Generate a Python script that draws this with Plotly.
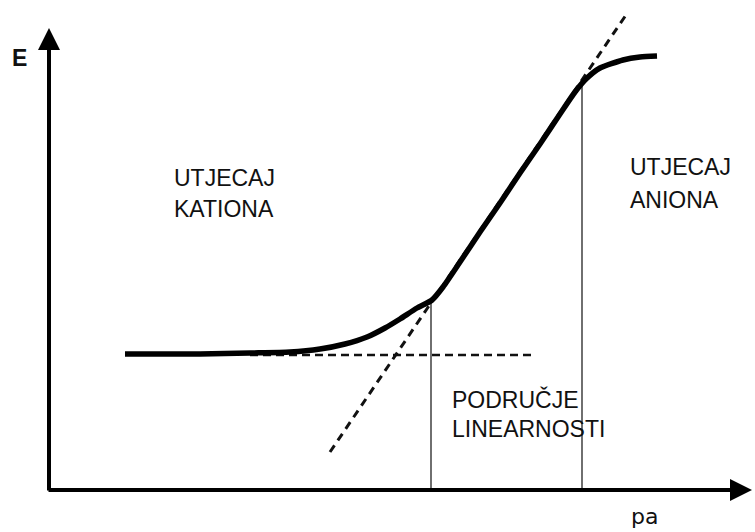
import plotly.graph_objects as go

# Coordinates in a schematic units system (0..755 wide, 0..532 tall, y downward)
curve_x = [125, 200, 250, 290, 320, 345, 367, 385, 400, 417, 432, 443, 460, 480, 500, 520, 540, 560, 575, 586, 600, 623, 640, 657]
curve_y = [354, 354, 353, 352, 349, 344, 337, 328, 319, 308, 300, 287, 262, 232, 203, 173, 144, 114, 92, 79, 68, 60, 57, 56]

tangent_x = [330, 628]
tangent_y = [452, 12]

baseline_x = [250, 535]
baseline_y = [355, 355]

lin_start_x, lin_start_top = 431, 300
lin_end_x, lin_end_top = 582, 83
axis_origin = (49, 490)
axis_x_end = 752
axis_y_end = 28

labels = [
    ("UTJECAJ", 172, 178),
    ("KATIONA", 172, 209),
    ("UTJECAJ", 628, 167),
    ("ANIONA", 628, 200),
    ("PODRUČJE", 450, 399),
    ("LINEARNOSTI", 450, 429),
]
axis_label_y = "E"
axis_label_x = "pa"

fig = go.Figure()

# vertical guide lines
fig.add_trace(go.Scatter(x=[lin_start_x, lin_start_x], y=[lin_start_top, axis_origin[1]],
                         mode="lines", line=dict(color="#222", width=1.3), hoverinfo="skip"))
fig.add_trace(go.Scatter(x=[lin_end_x, lin_end_x], y=[lin_end_top, axis_origin[1]],
                         mode="lines", line=dict(color="#222", width=1.3), hoverinfo="skip"))
# dashed lines
fig.add_trace(go.Scatter(x=baseline_x, y=baseline_y, mode="lines",
                         line=dict(color="#111", width=2.5, dash="8px,5px"), hoverinfo="skip"))
fig.add_trace(go.Scatter(x=tangent_x, y=tangent_y, mode="lines",
                         line=dict(color="#111", width=3, dash="8px,6px"), hoverinfo="skip"))
# main curve
fig.add_trace(go.Scatter(x=curve_x, y=curve_y, mode="lines",
                         line=dict(color="#000", width=5.5, shape="spline", smoothing=0.6), hoverinfo="skip"))

annotations = []
# axes with arrows
annotations.append(dict(x=axis_origin[0], y=axis_y_end, ax=axis_origin[0], ay=axis_origin[1] + 2,
                        xref="x", yref="y", axref="x", ayref="y", showarrow=True,
                        arrowhead=2, arrowsize=1.1, arrowwidth=4, arrowcolor="#000", text=""))
annotations.append(dict(x=axis_x_end, y=axis_origin[1], ax=axis_origin[0] - 2, ay=axis_origin[1],
                        xref="x", yref="y", axref="x", ayref="y", showarrow=True,
                        arrowhead=2, arrowsize=1.1, arrowwidth=4, arrowcolor="#000", text=""))
for txt, x, y in labels:
    annotations.append(dict(x=x, y=y, xref="x", yref="y", text=txt, showarrow=False,
                            xanchor="left", yanchor="middle",
                            font=dict(family="Liberation Sans, Arial, sans-serif", size=23, color="#111")))
annotations.append(dict(x=19, y=58, xref="x", yref="y", text="<b>" + axis_label_y + "</b>", showarrow=False,
                        xanchor="center", yanchor="middle",
                        font=dict(family="Liberation Sans, Arial, sans-serif", size=23, color="#111")))
annotations.append(dict(x=644, y=516, xref="x", yref="y", text=axis_label_x, showarrow=False,
                        xanchor="center", yanchor="middle",
                        font=dict(family="DejaVu Sans, sans-serif", size=22, color="#111")))

fig.update_layout(
    width=755, height=532,
    margin=dict(l=0, r=0, t=0, b=0),
    paper_bgcolor="white", plot_bgcolor="white",
    showlegend=False,
    xaxis=dict(range=[0, 755], visible=False, fixedrange=True),
    yaxis=dict(range=[532, 0], visible=False, fixedrange=True),
    annotations=annotations,
)

fig.write_html("out.html", config={"displayModeBar": False},
               post_script="document.body.style.margin='0';document.body.style.overflow='hidden';")
